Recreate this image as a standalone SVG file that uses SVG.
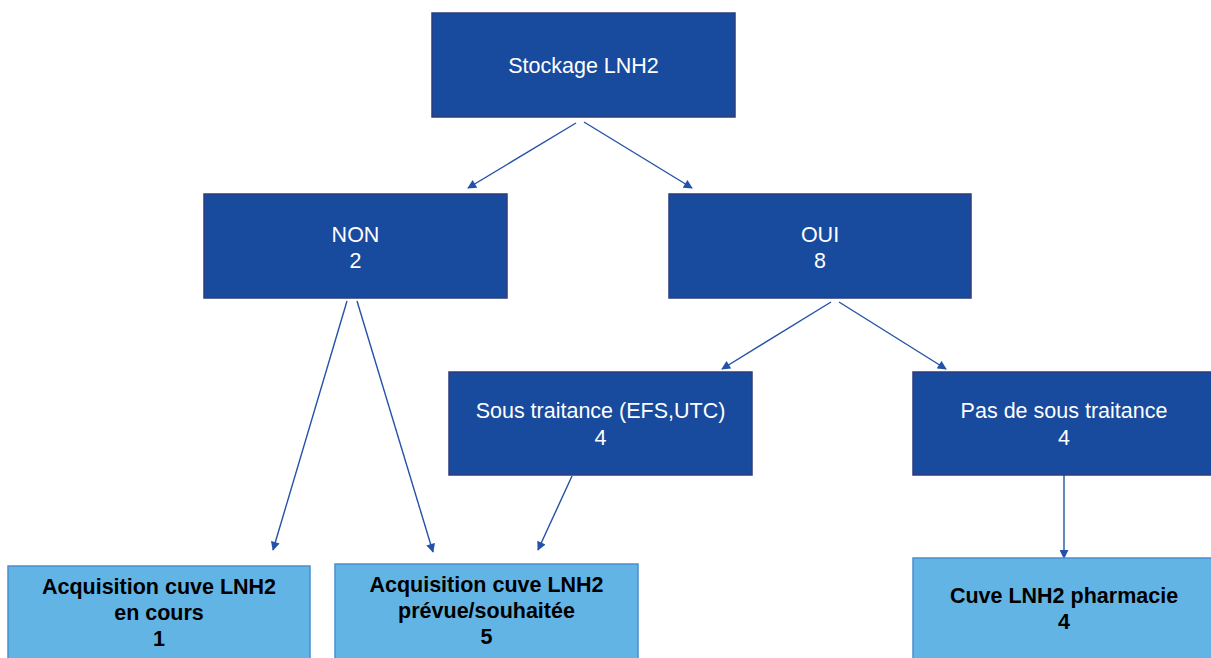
<svg xmlns="http://www.w3.org/2000/svg" width="1211" height="658" viewBox="0 0 1211 658">
<style>
.dark{fill:#184A9E;stroke:#2B3C7C;stroke-width:1.5}
.light{fill:#62B4E4;stroke:#4A8FD0;stroke-width:1.5}
.wt{font-family:"Liberation Sans",Arial,sans-serif;font-size:21.5px;fill:#FFFFFF;text-anchor:middle}
.bt{font-family:"Liberation Sans",Arial,sans-serif;font-size:21.5px;font-weight:bold;fill:#000000;text-anchor:middle}
.conn line{stroke:#2352A8;stroke-width:1.4;marker-end:url(#ah)}
</style>
<defs>
<marker id="ah" viewBox="0 0 10 10" refX="9" refY="5" markerWidth="10" markerHeight="9" markerUnits="userSpaceOnUse" orient="auto">
<path d="M0,0 L10,5 L0,10 Z" fill="#2352A8"/>
</marker>
</defs>
<rect width="1211" height="658" fill="#FFFFFF"/>
<g class="conn">
<line x1="576" y1="123" x2="468" y2="188"/>
<line x1="584" y1="122" x2="692" y2="188"/>
<line x1="347" y1="301" x2="273" y2="550"/>
<line x1="357" y1="301" x2="433" y2="552"/>
<line x1="831" y1="302" x2="722" y2="369"/>
<line x1="839" y1="302" x2="946" y2="369"/>
<line x1="572" y1="476" x2="538" y2="550"/>
<line x1="1064" y1="475" x2="1064" y2="558"/>
</g>
<g id="stockage">
<rect class="dark" x="432" y="13" width="303" height="104"/>
<text class="wt" x="583.5" y="73">Stockage LNH2</text>
</g>
<g id="non">
<rect class="dark" x="204" y="194" width="303" height="104"/>
<text class="wt" x="355.5" y="242">NON</text>
<text class="wt" x="355.5" y="268">2</text>
</g>
<g id="oui">
<rect class="dark" x="669" y="194" width="302" height="104"/>
<text class="wt" x="820" y="242">OUI</text>
<text class="wt" x="820" y="268">8</text>
</g>
<g id="sous-traitance">
<rect class="dark" x="449" y="372" width="303" height="103"/>
<text class="wt" x="600.5" y="418">Sous traitance (EFS,UTC)</text>
<text class="wt" x="600.5" y="445">4</text>
</g>
<g id="pas-sous-traitance">
<rect class="dark" x="913" y="372" width="303" height="103"/>
<text class="wt" x="1064" y="418">Pas de sous traitance</text>
<text class="wt" x="1064" y="445">4</text>
</g>
<g id="acq-en-cours">
<rect class="light" x="8" y="566" width="302" height="100"/>
<text class="bt" x="159" y="594">Acquisition cuve LNH2</text>
<text class="bt" x="159" y="620">en cours</text>
<text class="bt" x="159" y="646">1</text>
</g>
<g id="acq-prevue">
<rect class="light" x="335" y="564" width="303" height="100"/>
<text class="bt" x="486.5" y="592">Acquisition cuve LNH2</text>
<text class="bt" x="486.5" y="618">prévue/souhaitée</text>
<text class="bt" x="486.5" y="644">5</text>
</g>
<g id="cuve-pharmacie">
<rect class="light" x="913" y="558" width="303" height="110"/>
<text class="bt" x="1064" y="603">Cuve LNH2 pharmacie</text>
<text class="bt" x="1064" y="629">4</text>
</g>
</svg>
